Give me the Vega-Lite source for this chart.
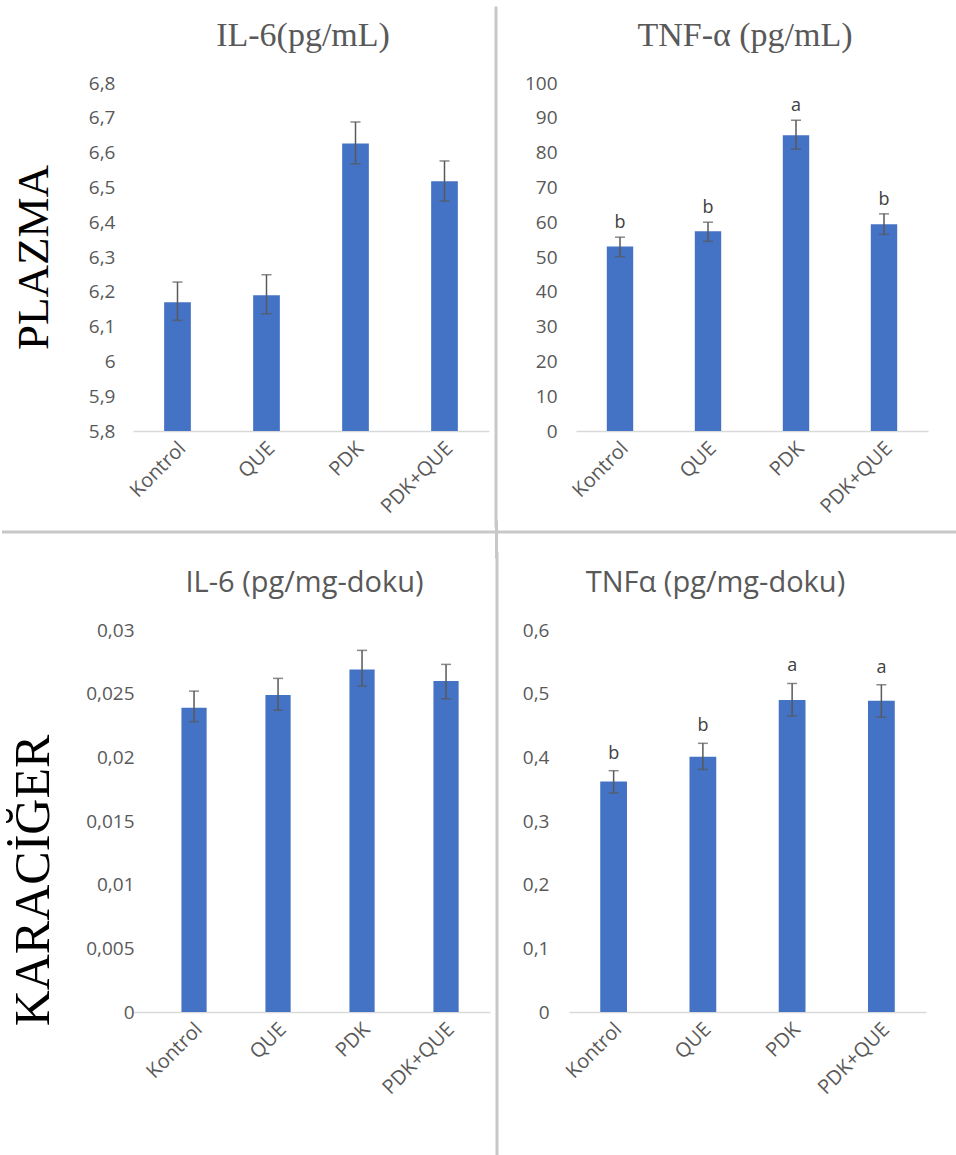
{
  "$schema": "https://vega.github.io/schema/vega-lite/v6.json",
  "padding": {"left": 0, "top": 5, "right": 0, "bottom": 0},
  "background": "white",
  "spacing": -10,
  "config": {
    "view": {"stroke": null},
    "font": "Open Sans",
    "axis": {"labelColor": "#595959", "labelFont": "Open Sans", "labelFontSize": 19, "labelOverlap": false},
    "axisX": {"labelFontSize": 20}
  },
  "datasets": {
    "bars": [
      {"panel": "Plazma IL-6", "group": "Kontrol", "mean": 6.17, "lo": 6.118, "hi": 6.228, "letter": ""},
      {"panel": "Plazma IL-6", "group": "QUE", "mean": 6.19, "lo": 6.137, "hi": 6.249, "letter": ""},
      {"panel": "Plazma IL-6", "group": "PDK", "mean": 6.626, "lo": 6.568, "hi": 6.688, "letter": ""},
      {"panel": "Plazma IL-6", "group": "PDK+QUE", "mean": 6.518, "lo": 6.461, "hi": 6.576, "letter": ""},
      {"panel": "Plazma TNF-α", "group": "Kontrol", "mean": 53.0, "lo": 50.1, "hi": 55.7, "letter": "b"},
      {"panel": "Plazma TNF-α", "group": "QUE", "mean": 57.4, "lo": 54.5, "hi": 60.0, "letter": "b"},
      {"panel": "Plazma TNF-α", "group": "PDK", "mean": 85.0, "lo": 81.0, "hi": 89.3, "letter": "a"},
      {"panel": "Plazma TNF-α", "group": "PDK+QUE", "mean": 59.4, "lo": 56.5, "hi": 62.4, "letter": "b"},
      {"panel": "Karaciğer IL-6", "group": "Kontrol", "mean": 0.0239, "lo": 0.0228, "hi": 0.0252, "letter": ""},
      {"panel": "Karaciğer IL-6", "group": "QUE", "mean": 0.0249, "lo": 0.0237, "hi": 0.0262, "letter": ""},
      {"panel": "Karaciğer IL-6", "group": "PDK", "mean": 0.0269, "lo": 0.0256, "hi": 0.0284, "letter": ""},
      {"panel": "Karaciğer IL-6", "group": "PDK+QUE", "mean": 0.026, "lo": 0.0246, "hi": 0.0273, "letter": ""},
      {"panel": "Karaciğer TNFα", "group": "Kontrol", "mean": 0.362, "lo": 0.344, "hi": 0.379, "letter": "b"},
      {"panel": "Karaciğer TNFα", "group": "QUE", "mean": 0.401, "lo": 0.381, "hi": 0.422, "letter": "b"},
      {"panel": "Karaciğer TNFα", "group": "PDK", "mean": 0.49, "lo": 0.465, "hi": 0.516, "letter": "a"},
      {"panel": "Karaciğer TNFα", "group": "PDK+QUE", "mean": 0.489, "lo": 0.463, "hi": 0.514, "letter": "a"}
    ],
    "lines": [{"line": "horizontal"}, {"line": "vertical"}]
  },
  "vconcat": [
    {
      "spacing": 4,
      "hconcat": [
        {
          "width": 356, "height": 348,
          "data": {"name": "bars"},
          "transform": [{"filter": "datum.panel === 'Plazma IL-6'"}],
          "title": {"text": "IL-6(pg/mL)", "font": "Liberation Serif", "fontSize": 34, "fontWeight": "normal", "color": "#595959", "offset": 21, "dx": -8},
          "encoding": {
            "x": {"field": "group", "type": "nominal", "sort": ["Kontrol", "QUE", "PDK", "PDK+QUE"], "scale": {"paddingInner": 0.7, "paddingOuter": 0.35},
                  "axis": {"title": null, "labelAngle": -45, "labelAlign": "right", "labelBaseline": "middle", "labelOffset": 5, "ticks": false, "domainColor": "#d9d9d9", "domainWidth": 1.5, "labelPadding": 14}}
          },
          "layer": [
            {"mark": {"type": "bar", "color": "#4472C4"},
             "encoding": {"y": {"field": "mean", "type": "quantitative", "title": ["", "PLAZMA"],
                                "scale": {"domain": [5.8, 6.8], "nice": false, "zero": false},
                                "axis": {"values": [5.8, 5.9, 6, 6.1, 6.2, 6.3, 6.4, 6.5, 6.6, 6.7, 6.8], "tickCount": 11, "labelExpr": "replace(format(datum.value, '.3~f'), '.', ',')", "labelOverlap": false,
                                         "domain": false, "ticks": false, "grid": false, "labelPadding": 18, "minExtent": 45, "maxExtent": 45,
                                         "titleFont": "Liberation Serif", "titleFontSize": 45, "titleLineHeight": 9, "titleFontWeight": "normal", "titleColor": "#000000", "titlePadding": 32}},
                          "y2": {"datum": 5.8}}},
            {"mark": {"type": "rule", "color": "#595959", "strokeWidth": 1.5},
             "encoding": {"y": {"field": "lo", "type": "quantitative"}, "y2": {"field": "hi"}}},
            {"mark": {"type": "tick", "color": "#595959", "thickness": 1.5, "size": 10},
             "encoding": {"y": {"field": "lo", "type": "quantitative"}}},
            {"mark": {"type": "tick", "color": "#595959", "thickness": 1.5, "size": 10},
             "encoding": {"y": {"field": "hi", "type": "quantitative"}}}
          ]
        },
        {
          "width": 4, "height": 348,
          "data": {"name": "lines"},
          "transform": [{"filter": "datum.line === 'vertical'"}],
          "mark": {"type": "rule", "color": "#c8c8c8", "strokeWidth": 3, "strokeCap": "square"},
          "encoding": {
            "x": {"datum": 50, "type": "quantitative", "scale": {"domain": [0, 100]}, "axis": null},
            "y": {"datum": -95, "type": "quantitative", "scale": {"domain": [0, 348], "nice": false, "zero": false}, "axis": null},
            "y2": {"datum": 423}
          }
        },
        {
          "width": 352, "height": 348,
          "data": {"name": "bars"},
          "transform": [{"filter": "datum.panel === 'Plazma TNF-α'"}],
          "title": {"text": "TNF-α (pg/mL)", "font": "Liberation Serif", "fontSize": 34, "fontWeight": "normal", "color": "#595959", "offset": 21, "dx": -7},
          "encoding": {
            "x": {"field": "group", "type": "nominal", "sort": ["Kontrol", "QUE", "PDK", "PDK+QUE"], "scale": {"paddingInner": 0.7, "paddingOuter": 0.35},
                  "axis": {"title": null, "labelAngle": -45, "labelAlign": "right", "labelBaseline": "middle", "labelOffset": 5, "ticks": false, "domainColor": "#d9d9d9", "domainWidth": 1.5, "labelPadding": 14}}
          },
          "layer": [
            {"mark": {"type": "bar", "color": "#4472C4"},
             "encoding": {"y": {"field": "mean", "type": "quantitative", "title": null,
                                "scale": {"domain": [0, 100], "nice": false},
                                "axis": {"values": [0, 10, 20, 30, 40, 50, 60, 70, 80, 90, 100], "tickCount": 11, "labelOverlap": false,
                                         "domain": false, "ticks": false, "grid": false, "labelPadding": 19, "minExtent": 73, "maxExtent": 73}},
                          "y2": {"datum": 0}}},
            {"mark": {"type": "rule", "color": "#595959", "strokeWidth": 1.5},
             "encoding": {"y": {"field": "lo", "type": "quantitative"}, "y2": {"field": "hi"}}},
            {"mark": {"type": "tick", "color": "#595959", "thickness": 1.5, "size": 10},
             "encoding": {"y": {"field": "lo", "type": "quantitative"}}},
            {"mark": {"type": "tick", "color": "#595959", "thickness": 1.5, "size": 10},
             "encoding": {"y": {"field": "hi", "type": "quantitative"}}},
            {"mark": {"type": "text", "dy": -14, "fontSize": 18, "color": "#404040", "font": "Open Sans"},
             "encoding": {"y": {"field": "hi", "type": "quantitative"}, "text": {"field": "letter"}}}
          ]
        }
      ]
    },
    {
      "width": 825, "height": 15,
      "data": {"name": "lines"},
      "transform": [{"filter": "datum.line === 'horizontal'"}],
      "layer": [
        {"mark": {"type": "rule", "color": "#c8c8c8", "strokeWidth": 3},
         "encoding": {"y": {"datum": 15, "type": "quantitative", "scale": {"domain": [0, 15], "nice": false}, "axis": null},
                      "x": {"datum": 0, "type": "quantitative", "scale": {"domain": [131, 956], "nice": false, "zero": false}, "axis": null},
                      "x2": {"datum": 956}}},
        {"mark": {"type": "rule", "color": "#c8c8c8", "strokeWidth": 3, "strokeCap": "square"},
         "encoding": {"x": {"datum": 494.5, "type": "quantitative"},
                      "y": {"datum": -10, "type": "quantitative"},
                      "y2": {"datum": 25}}}
      ]
    },
    {
      "spacing": 4,
      "hconcat": [
        {
          "width": 357, "height": 382,
          "data": {"name": "bars"},
          "transform": [{"filter": "datum.panel === 'Karaciğer IL-6'"}],
          "title": {"text": "IL-6 (pg/mg-doku)", "font": "Open Sans", "fontSize": 29, "fontWeight": "normal", "color": "#595959", "offset": 23, "dx": -7},
          "encoding": {
            "x": {"field": "group", "type": "nominal", "sort": ["Kontrol", "QUE", "PDK", "PDK+QUE"], "scale": {"paddingInner": 0.7, "paddingOuter": 0.475, "align": 0.607},
                  "axis": {"title": null, "labelAngle": -45, "labelAlign": "right", "labelBaseline": "middle", "labelOffset": 5, "ticks": false, "domainColor": "#d9d9d9", "domainWidth": 1.5, "labelPadding": 14}}
          },
          "layer": [
            {"mark": {"type": "bar", "color": "#4472C4"},
             "encoding": {"y": {"field": "mean", "type": "quantitative", "title": ["", "KARACİĞER"],
                                "scale": {"domain": [0, 0.03], "nice": false},
                                "axis": {"values": [0, 0.005, 0.01, 0.015, 0.02, 0.025, 0.03], "tickCount": 7, "labelExpr": "replace(format(datum.value, '.3~f'), '.', ',')", "labelOverlap": false,
                                         "domain": false, "ticks": false, "grid": false, "labelPadding": 20, "minExtent": 70, "maxExtent": 70, "offset": -21,
                                         "titleFont": "Liberation Serif", "titleFontSize": 50, "titleLineHeight": 6, "titleFontWeight": "normal", "titleColor": "#000000", "titlePadding": 26, "titleY": 250}},
                          "y2": {"datum": 0}}},
            {"mark": {"type": "rule", "color": "#595959", "strokeWidth": 1.5},
             "encoding": {"y": {"field": "lo", "type": "quantitative"}, "y2": {"field": "hi"}}},
            {"mark": {"type": "tick", "color": "#595959", "thickness": 1.5, "size": 10},
             "encoding": {"y": {"field": "lo", "type": "quantitative"}}},
            {"mark": {"type": "tick", "color": "#595959", "thickness": 1.5, "size": 10},
             "encoding": {"y": {"field": "hi", "type": "quantitative"}}}
          ]
        },
        {
          "width": 4, "height": 382,
          "data": {"name": "lines"},
          "transform": [{"filter": "datum.line === 'vertical'"}],
          "mark": {"type": "rule", "color": "#c8c8c8", "strokeWidth": 3, "strokeCap": "square"},
          "encoding": {
            "x": {"datum": 50, "type": "quantitative", "scale": {"domain": [0, 100]}, "axis": null},
            "y": {"datum": -143, "type": "quantitative", "scale": {"domain": [0, 382], "nice": false, "zero": false}, "axis": null},
            "y2": {"datum": 459}
          }
        },
        {
          "width": 357, "height": 382,
          "data": {"name": "bars"},
          "transform": [{"filter": "datum.panel === 'Karaciğer TNFα'"}],
          "title": {"text": "TNFα (pg/mg-doku)", "font": "Open Sans", "fontSize": 29, "fontWeight": "normal", "color": "#595959", "offset": 23, "dx": -32},
          "encoding": {
            "x": {"field": "group", "type": "nominal", "sort": ["Kontrol", "QUE", "PDK", "PDK+QUE"], "scale": {"paddingInner": 0.7, "paddingOuter": 0.35},
                  "axis": {"title": null, "labelAngle": -45, "labelAlign": "right", "labelBaseline": "middle", "labelOffset": 5, "ticks": false, "domainColor": "#d9d9d9", "domainWidth": 1.5, "labelPadding": 14}}
          },
          "layer": [
            {"mark": {"type": "bar", "color": "#4472C4"},
             "encoding": {"y": {"field": "mean", "type": "quantitative", "title": null,
                                "scale": {"domain": [0, 0.6], "nice": false},
                                "axis": {"values": [0, 0.1, 0.2, 0.3, 0.4, 0.5, 0.6], "tickCount": 7, "labelExpr": "replace(format(datum.value, '.3~f'), '.', ',')", "labelOverlap": false,
                                         "domain": false, "ticks": false, "grid": false, "labelPadding": 20, "minExtent": 65, "maxExtent": 65}},
                          "y2": {"datum": 0}}},
            {"mark": {"type": "rule", "color": "#595959", "strokeWidth": 1.5},
             "encoding": {"y": {"field": "lo", "type": "quantitative"}, "y2": {"field": "hi"}}},
            {"mark": {"type": "tick", "color": "#595959", "thickness": 1.5, "size": 10},
             "encoding": {"y": {"field": "lo", "type": "quantitative"}}},
            {"mark": {"type": "tick", "color": "#595959", "thickness": 1.5, "size": 10},
             "encoding": {"y": {"field": "hi", "type": "quantitative"}}},
            {"mark": {"type": "text", "dy": -17, "fontSize": 18, "color": "#404040", "font": "Open Sans"},
             "encoding": {"y": {"field": "hi", "type": "quantitative"}, "text": {"field": "letter"}}}
          ]
        }
      ]
    }
  ]
}
